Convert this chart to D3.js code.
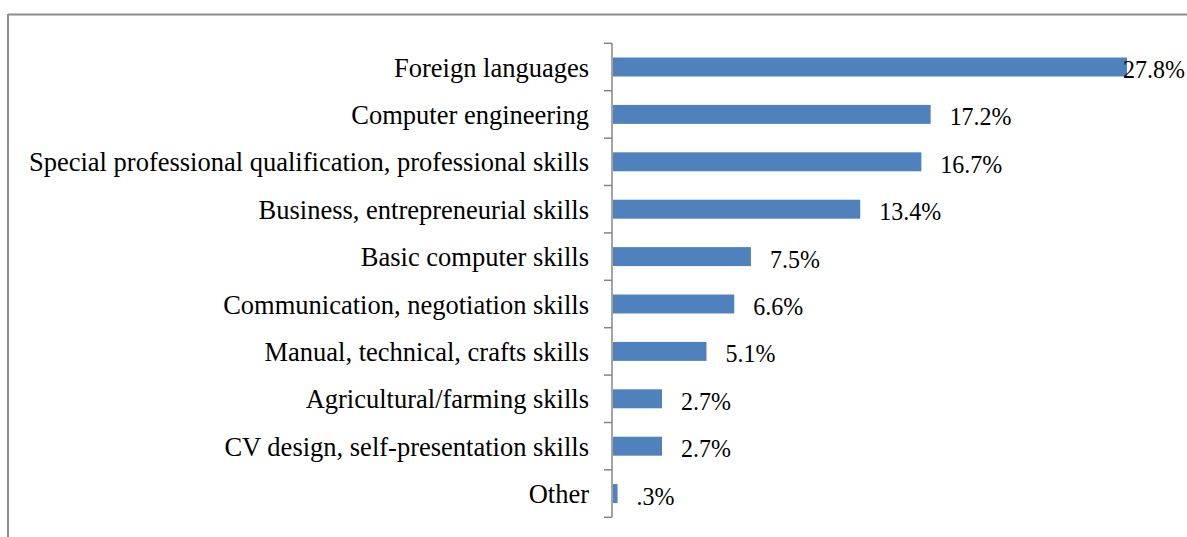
<!DOCTYPE html>
<html>
<head>
<meta charset="utf-8">
<script src="https://cdn.jsdelivr.net/npm/d3@7"></script>
<style>
  html, body { margin: 0; padding: 0; background: #fff; }
  svg { display: block; }
  text { font-family: "Liberation Serif", "Times New Roman", serif; fill: #000; }
</style>
</head>
<body>
<svg id="chart" width="1187" height="537"></svg>
<script>
// Skills categories and the share of respondents naming each one (%)
const categories = [
  "Foreign languages",
  "Computer engineering",
  "Special professional qualification, professional skills",
  "Business, entrepreneurial skills",
  "Basic computer skills",
  "Communication, negotiation skills",
  "Manual, technical, crafts skills",
  "Agricultural/farming skills",
  "CV design, self-presentation skills",
  "Other"
];
const values = [27.8, 17.2, 16.7, 13.4, 7.5, 6.6, 5.1, 2.7, 2.7, 0.3];
const valueLabels = ["27.8%", "17.2%", "16.7%", "13.4%", "7.5%", "6.6%", "5.1%", "2.7%", "2.7%", ".3%"];

const W = 1187, H = 537;
const svg = d3.select("#chart");

// Chart-area frame (top and left edges visible)
svg.append("line").attr("x1", 8).attr("x2", W).attr("y1", 14.5).attr("y2", 14.5)
  .attr("stroke", "#8c8c8c").attr("stroke-width", 2);
svg.append("line").attr("x1", 8).attr("x2", 8).attr("y1", 14).attr("y2", H)
  .attr("stroke", "#8c8c8c").attr("stroke-width", 2);

const axisX = 612;
const y = d3.scaleBand().domain(categories).range([43.3, 517.3]).paddingInner(0.6).paddingOuter(0.3);
const x = d3.scaleLinear().domain([0, 27.8]).range([axisX, 1127]);

// Bars
svg.append("g").selectAll("rect").data(values).join("rect")
  .attr("x", axisX + 1)
  .attr("y", (d, i) => y(categories[i]))
  .attr("width", d => x(d) - axisX - 1)
  .attr("height", y.bandwidth())
  .attr("fill", "#4F81BD");

// Category axis with ticks between categories
const step = y.step();
const axisG = svg.append("g");
axisG.append("line").attr("x1", axisX).attr("x2", axisX)
  .attr("y1", 43.3).attr("y2", 517.3).attr("stroke", "#868686").attr("stroke-width", 1.5);
const tickYs = d3.range(categories.length + 1).map(i => 43.3 + i * step);
axisG.selectAll("line.tick").data(tickYs).join("line").attr("class", "tick")
  .attr("x1", axisX - 8).attr("x2", axisX).attr("y1", d => d).attr("y2", d => d)
  .attr("stroke", "#868686").attr("stroke-width", 1.5);

// Category labels
svg.append("g").selectAll("text").data(categories).join("text")
  .attr("x", 589)
  .attr("y", d => y(d) + y.bandwidth() / 2 + 9.5)
  .attr("text-anchor", "end")
  .attr("font-size", 26.5)
  .text(d => d);

// Value labels (slightly condensed), kept inside the drawing width
const squeeze = 24 / 26;
svg.append("g").selectAll("text").data(values).join("text")
  .attr("font-size", 26)
  .text((d, i) => valueLabels[i])
  .each(function(d, i) {
    const w = this.getComputedTextLength() * squeeze;
    const px = Math.min(x(d) + 19, W - w - 2);
    const py = y(categories[i]) + y.bandwidth() / 2 + 11;
    d3.select(this).attr("transform", `translate(${px},${py}) scale(${squeeze},1)`);
  });
</script>
</body>
</html>
